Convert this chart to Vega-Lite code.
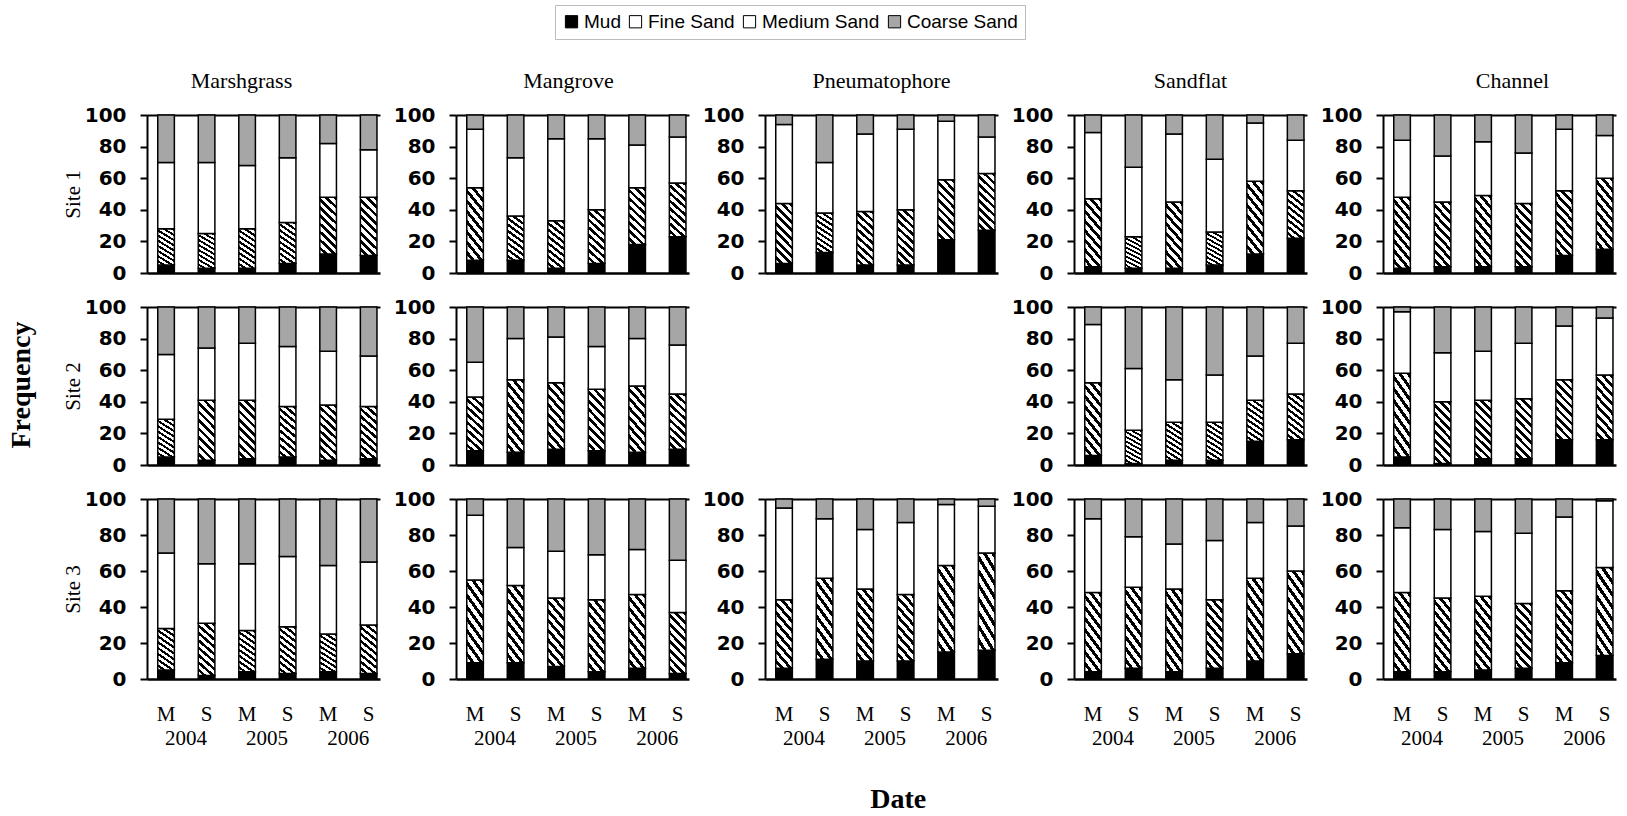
{
"$schema": "https://vega.github.io/schema/vega-lite/v6.json",
"padding": {"left": 8, "top": 4, "right": 5, "bottom": 5},
"background": "white",
"datasets": {
"ranks": [{"fraction":"Mud","rank":1},{"fraction":"Fine Sand","rank":2},{"fraction":"Medium Sand","rank":3},{"fraction":"Coarse Sand","rank":4}],
"sed": [
{"habitat":"Marshgrass","site":"Site 1","period":"2004 M","Mud":5,"Fine Sand":23,"Medium Sand":42,"Coarse Sand":30},
{"habitat":"Marshgrass","site":"Site 1","period":"2004 S","Mud":3,"Fine Sand":22,"Medium Sand":45,"Coarse Sand":30},
{"habitat":"Marshgrass","site":"Site 1","period":"2005 M","Mud":3,"Fine Sand":25,"Medium Sand":40,"Coarse Sand":32},
{"habitat":"Marshgrass","site":"Site 1","period":"2005 S","Mud":6,"Fine Sand":26,"Medium Sand":41,"Coarse Sand":27},
{"habitat":"Marshgrass","site":"Site 1","period":"2006 M","Mud":12,"Fine Sand":36,"Medium Sand":34,"Coarse Sand":18},
{"habitat":"Marshgrass","site":"Site 1","period":"2006 S","Mud":11,"Fine Sand":37,"Medium Sand":30,"Coarse Sand":22},
{"habitat":"Mangrove","site":"Site 1","period":"2004 M","Mud":8,"Fine Sand":46,"Medium Sand":37,"Coarse Sand":9},
{"habitat":"Mangrove","site":"Site 1","period":"2004 S","Mud":8,"Fine Sand":28,"Medium Sand":37,"Coarse Sand":27},
{"habitat":"Mangrove","site":"Site 1","period":"2005 M","Mud":3,"Fine Sand":30,"Medium Sand":52,"Coarse Sand":15},
{"habitat":"Mangrove","site":"Site 1","period":"2005 S","Mud":6,"Fine Sand":34,"Medium Sand":45,"Coarse Sand":15},
{"habitat":"Mangrove","site":"Site 1","period":"2006 M","Mud":18,"Fine Sand":36,"Medium Sand":27,"Coarse Sand":19},
{"habitat":"Mangrove","site":"Site 1","period":"2006 S","Mud":23,"Fine Sand":34,"Medium Sand":29,"Coarse Sand":14},
{"habitat":"Pneumatophore","site":"Site 1","period":"2004 M","Mud":6,"Fine Sand":38,"Medium Sand":50,"Coarse Sand":6},
{"habitat":"Pneumatophore","site":"Site 1","period":"2004 S","Mud":13,"Fine Sand":25,"Medium Sand":32,"Coarse Sand":30},
{"habitat":"Pneumatophore","site":"Site 1","period":"2005 M","Mud":5,"Fine Sand":34,"Medium Sand":49,"Coarse Sand":12},
{"habitat":"Pneumatophore","site":"Site 1","period":"2005 S","Mud":5,"Fine Sand":35,"Medium Sand":51,"Coarse Sand":9},
{"habitat":"Pneumatophore","site":"Site 1","period":"2006 M","Mud":21,"Fine Sand":38,"Medium Sand":37,"Coarse Sand":4},
{"habitat":"Pneumatophore","site":"Site 1","period":"2006 S","Mud":27,"Fine Sand":36,"Medium Sand":23,"Coarse Sand":14},
{"habitat":"Sandflat","site":"Site 1","period":"2004 M","Mud":4,"Fine Sand":43,"Medium Sand":42,"Coarse Sand":11},
{"habitat":"Sandflat","site":"Site 1","period":"2004 S","Mud":3,"Fine Sand":20,"Medium Sand":44,"Coarse Sand":33},
{"habitat":"Sandflat","site":"Site 1","period":"2005 M","Mud":3,"Fine Sand":42,"Medium Sand":43,"Coarse Sand":12},
{"habitat":"Sandflat","site":"Site 1","period":"2005 S","Mud":5,"Fine Sand":21,"Medium Sand":46,"Coarse Sand":28},
{"habitat":"Sandflat","site":"Site 1","period":"2006 M","Mud":12,"Fine Sand":46,"Medium Sand":37,"Coarse Sand":5},
{"habitat":"Sandflat","site":"Site 1","period":"2006 S","Mud":22,"Fine Sand":30,"Medium Sand":32,"Coarse Sand":16},
{"habitat":"Channel","site":"Site 1","period":"2004 M","Mud":3,"Fine Sand":45,"Medium Sand":36,"Coarse Sand":16},
{"habitat":"Channel","site":"Site 1","period":"2004 S","Mud":4,"Fine Sand":41,"Medium Sand":29,"Coarse Sand":26},
{"habitat":"Channel","site":"Site 1","period":"2005 M","Mud":4,"Fine Sand":45,"Medium Sand":34,"Coarse Sand":17},
{"habitat":"Channel","site":"Site 1","period":"2005 S","Mud":4,"Fine Sand":40,"Medium Sand":32,"Coarse Sand":24},
{"habitat":"Channel","site":"Site 1","period":"2006 M","Mud":11,"Fine Sand":41,"Medium Sand":39,"Coarse Sand":9},
{"habitat":"Channel","site":"Site 1","period":"2006 S","Mud":15,"Fine Sand":45,"Medium Sand":27,"Coarse Sand":13},
{"habitat":"Marshgrass","site":"Site 2","period":"2004 M","Mud":5,"Fine Sand":24,"Medium Sand":41,"Coarse Sand":30},
{"habitat":"Marshgrass","site":"Site 2","period":"2004 S","Mud":3,"Fine Sand":38,"Medium Sand":33,"Coarse Sand":26},
{"habitat":"Marshgrass","site":"Site 2","period":"2005 M","Mud":4,"Fine Sand":37,"Medium Sand":36,"Coarse Sand":23},
{"habitat":"Marshgrass","site":"Site 2","period":"2005 S","Mud":5,"Fine Sand":32,"Medium Sand":38,"Coarse Sand":25},
{"habitat":"Marshgrass","site":"Site 2","period":"2006 M","Mud":3,"Fine Sand":35,"Medium Sand":34,"Coarse Sand":28},
{"habitat":"Marshgrass","site":"Site 2","period":"2006 S","Mud":4,"Fine Sand":33,"Medium Sand":32,"Coarse Sand":31},
{"habitat":"Mangrove","site":"Site 2","period":"2004 M","Mud":9,"Fine Sand":34,"Medium Sand":22,"Coarse Sand":35},
{"habitat":"Mangrove","site":"Site 2","period":"2004 S","Mud":8,"Fine Sand":46,"Medium Sand":26,"Coarse Sand":20},
{"habitat":"Mangrove","site":"Site 2","period":"2005 M","Mud":10,"Fine Sand":42,"Medium Sand":29,"Coarse Sand":19},
{"habitat":"Mangrove","site":"Site 2","period":"2005 S","Mud":9,"Fine Sand":39,"Medium Sand":27,"Coarse Sand":25},
{"habitat":"Mangrove","site":"Site 2","period":"2006 M","Mud":8,"Fine Sand":42,"Medium Sand":30,"Coarse Sand":20},
{"habitat":"Mangrove","site":"Site 2","period":"2006 S","Mud":10,"Fine Sand":35,"Medium Sand":31,"Coarse Sand":24},
{"habitat":"Sandflat","site":"Site 2","period":"2004 M","Mud":6,"Fine Sand":46,"Medium Sand":37,"Coarse Sand":11},
{"habitat":"Sandflat","site":"Site 2","period":"2004 S","Mud":1,"Fine Sand":21,"Medium Sand":39,"Coarse Sand":39},
{"habitat":"Sandflat","site":"Site 2","period":"2005 M","Mud":3,"Fine Sand":24,"Medium Sand":27,"Coarse Sand":46},
{"habitat":"Sandflat","site":"Site 2","period":"2005 S","Mud":3,"Fine Sand":24,"Medium Sand":30,"Coarse Sand":43},
{"habitat":"Sandflat","site":"Site 2","period":"2006 M","Mud":15,"Fine Sand":26,"Medium Sand":28,"Coarse Sand":31},
{"habitat":"Sandflat","site":"Site 2","period":"2006 S","Mud":16,"Fine Sand":29,"Medium Sand":32,"Coarse Sand":23},
{"habitat":"Channel","site":"Site 2","period":"2004 M","Mud":5,"Fine Sand":53,"Medium Sand":39,"Coarse Sand":3},
{"habitat":"Channel","site":"Site 2","period":"2004 S","Mud":1,"Fine Sand":39,"Medium Sand":31,"Coarse Sand":29},
{"habitat":"Channel","site":"Site 2","period":"2005 M","Mud":4,"Fine Sand":37,"Medium Sand":31,"Coarse Sand":28},
{"habitat":"Channel","site":"Site 2","period":"2005 S","Mud":4,"Fine Sand":38,"Medium Sand":35,"Coarse Sand":23},
{"habitat":"Channel","site":"Site 2","period":"2006 M","Mud":16,"Fine Sand":38,"Medium Sand":34,"Coarse Sand":12},
{"habitat":"Channel","site":"Site 2","period":"2006 S","Mud":16,"Fine Sand":41,"Medium Sand":36,"Coarse Sand":7},
{"habitat":"Marshgrass","site":"Site 3","period":"2004 M","Mud":5,"Fine Sand":23,"Medium Sand":42,"Coarse Sand":30},
{"habitat":"Marshgrass","site":"Site 3","period":"2004 S","Mud":2,"Fine Sand":29,"Medium Sand":33,"Coarse Sand":36},
{"habitat":"Marshgrass","site":"Site 3","period":"2005 M","Mud":4,"Fine Sand":23,"Medium Sand":37,"Coarse Sand":36},
{"habitat":"Marshgrass","site":"Site 3","period":"2005 S","Mud":3,"Fine Sand":26,"Medium Sand":39,"Coarse Sand":32},
{"habitat":"Marshgrass","site":"Site 3","period":"2006 M","Mud":4,"Fine Sand":21,"Medium Sand":38,"Coarse Sand":37},
{"habitat":"Marshgrass","site":"Site 3","period":"2006 S","Mud":3,"Fine Sand":27,"Medium Sand":35,"Coarse Sand":35},
{"habitat":"Mangrove","site":"Site 3","period":"2004 M","Mud":9,"Fine Sand":46,"Medium Sand":36,"Coarse Sand":9},
{"habitat":"Mangrove","site":"Site 3","period":"2004 S","Mud":9,"Fine Sand":43,"Medium Sand":21,"Coarse Sand":27},
{"habitat":"Mangrove","site":"Site 3","period":"2005 M","Mud":7,"Fine Sand":38,"Medium Sand":26,"Coarse Sand":29},
{"habitat":"Mangrove","site":"Site 3","period":"2005 S","Mud":4,"Fine Sand":40,"Medium Sand":25,"Coarse Sand":31},
{"habitat":"Mangrove","site":"Site 3","period":"2006 M","Mud":6,"Fine Sand":41,"Medium Sand":25,"Coarse Sand":28},
{"habitat":"Mangrove","site":"Site 3","period":"2006 S","Mud":3,"Fine Sand":34,"Medium Sand":29,"Coarse Sand":34},
{"habitat":"Pneumatophore","site":"Site 3","period":"2004 M","Mud":6,"Fine Sand":38,"Medium Sand":51,"Coarse Sand":5},
{"habitat":"Pneumatophore","site":"Site 3","period":"2004 S","Mud":11,"Fine Sand":45,"Medium Sand":33,"Coarse Sand":11},
{"habitat":"Pneumatophore","site":"Site 3","period":"2005 M","Mud":10,"Fine Sand":40,"Medium Sand":33,"Coarse Sand":17},
{"habitat":"Pneumatophore","site":"Site 3","period":"2005 S","Mud":10,"Fine Sand":37,"Medium Sand":40,"Coarse Sand":13},
{"habitat":"Pneumatophore","site":"Site 3","period":"2006 M","Mud":15,"Fine Sand":48,"Medium Sand":34,"Coarse Sand":3},
{"habitat":"Pneumatophore","site":"Site 3","period":"2006 S","Mud":16,"Fine Sand":54,"Medium Sand":26,"Coarse Sand":4},
{"habitat":"Sandflat","site":"Site 3","period":"2004 M","Mud":4,"Fine Sand":44,"Medium Sand":41,"Coarse Sand":11},
{"habitat":"Sandflat","site":"Site 3","period":"2004 S","Mud":6,"Fine Sand":45,"Medium Sand":28,"Coarse Sand":21},
{"habitat":"Sandflat","site":"Site 3","period":"2005 M","Mud":4,"Fine Sand":46,"Medium Sand":25,"Coarse Sand":25},
{"habitat":"Sandflat","site":"Site 3","period":"2005 S","Mud":6,"Fine Sand":38,"Medium Sand":33,"Coarse Sand":23},
{"habitat":"Sandflat","site":"Site 3","period":"2006 M","Mud":10,"Fine Sand":46,"Medium Sand":31,"Coarse Sand":13},
{"habitat":"Sandflat","site":"Site 3","period":"2006 S","Mud":14,"Fine Sand":46,"Medium Sand":25,"Coarse Sand":15},
{"habitat":"Channel","site":"Site 3","period":"2004 M","Mud":4,"Fine Sand":44,"Medium Sand":36,"Coarse Sand":16},
{"habitat":"Channel","site":"Site 3","period":"2004 S","Mud":4,"Fine Sand":41,"Medium Sand":38,"Coarse Sand":17},
{"habitat":"Channel","site":"Site 3","period":"2005 M","Mud":5,"Fine Sand":41,"Medium Sand":36,"Coarse Sand":18},
{"habitat":"Channel","site":"Site 3","period":"2005 S","Mud":6,"Fine Sand":36,"Medium Sand":39,"Coarse Sand":19},
{"habitat":"Channel","site":"Site 3","period":"2006 M","Mud":9,"Fine Sand":40,"Medium Sand":41,"Coarse Sand":10},
{"habitat":"Channel","site":"Site 3","period":"2006 S","Mud":13,"Fine Sand":49,"Medium Sand":37,"Coarse Sand":1}
]
},
"title": {"text": "Date", "orient": "bottom", "anchor": "middle", "frame": "bounds", "fontSize": 28, "fontWeight": "bold", "baseline": "top", "offset": 38, "dx": 82},
"vconcat": [
{
"title": {"text": "Frequency", "orient": "left", "anchor": "middle", "frame": "bounds", "fontSize": 28, "fontWeight": "bold", "baseline": "bottom", "offset": -2, "dx": 24},
"data": {"name": "sed"},
"transform": [
 {"fold": ["Mud", "Fine Sand", "Medium Sand", "Coarse Sand"], "as": ["fraction", "value"]},
 {"lookup": "fraction", "from": {"data": {"name": "ranks"}, "key": "fraction", "fields": ["rank"]}}
],
"columns": 5,
"align": "each",
"bounds": "flush",
"spacing": {"row": 34, "column": 76},
"concat": [
{"width":233,"height":158,"title":{"text":"Marshgrass","dx":-22},"transform":[{"filter":"datum.habitat=='Marshgrass' && datum.site=='Site 1'"}],"mark":{"type":"bar","stroke":"black","strokeWidth":1.5},"encoding":{"x":{"field":"period","type":"nominal","scale":{"domain":["2004 M","2004 S","2005 M","2005 S","2006 M","2006 S"],"paddingInner":0.59,"paddingOuter":0.17,"align":0.78},"axis":{"labels":false,"title":null}},"y":{"field":"value","type":"quantitative","scale":{"domain":[0,100]},"axis":{"title":"Site 1"}},"fill":{"condition":{"test":"datum.fraction=='Fine Sand'","value":{"gradient":"linear","x1":0,"y1":1,"x2":0.33,"y2":-0.18,"stops":[{"offset":0,"color":"white"},{"offset":0.061,"color":"white"},{"offset":0.061,"color":"black"},{"offset":0.111,"color":"black"},{"offset":0.111,"color":"white"},{"offset":0.172,"color":"white"},{"offset":0.172,"color":"black"},{"offset":0.222,"color":"black"},{"offset":0.222,"color":"white"},{"offset":0.283,"color":"white"},{"offset":0.283,"color":"black"},{"offset":0.333,"color":"black"},{"offset":0.333,"color":"white"},{"offset":0.394,"color":"white"},{"offset":0.394,"color":"black"},{"offset":0.444,"color":"black"},{"offset":0.444,"color":"white"},{"offset":0.506,"color":"white"},{"offset":0.506,"color":"black"},{"offset":0.556,"color":"black"},{"offset":0.556,"color":"white"},{"offset":0.617,"color":"white"},{"offset":0.617,"color":"black"},{"offset":0.667,"color":"black"},{"offset":0.667,"color":"white"},{"offset":0.728,"color":"white"},{"offset":0.728,"color":"black"},{"offset":0.778,"color":"black"},{"offset":0.778,"color":"white"},{"offset":0.839,"color":"white"},{"offset":0.839,"color":"black"},{"offset":0.889,"color":"black"},{"offset":0.889,"color":"white"},{"offset":0.95,"color":"white"},{"offset":0.95,"color":"black"},{"offset":1,"color":"black"}]}},"field":"fraction","type":"nominal","sort":["Mud","Fine Sand","Medium Sand","Coarse Sand"],"title":null},"order":{"field":"rank","type":"quantitative"}}},
{"width":233,"height":158,"title":{"text":"Mangrove","dx":-4},"transform":[{"filter":"datum.habitat=='Mangrove' && datum.site=='Site 1'"}],"mark":{"type":"bar","stroke":"black","strokeWidth":1.5},"encoding":{"x":{"field":"period","type":"nominal","scale":{"domain":["2004 M","2004 S","2005 M","2005 S","2006 M","2006 S"],"paddingInner":0.59,"paddingOuter":0.17,"align":0.78},"axis":{"labels":false,"title":null}},"y":{"field":"value","type":"quantitative","scale":{"domain":[0,100]},"axis":{"title":null}},"fill":{"condition":{"test":"datum.fraction=='Fine Sand'","value":{"gradient":"linear","x1":0,"y1":1,"x2":0.33,"y2":-0.18,"stops":[{"offset":0,"color":"white"},{"offset":0.061,"color":"white"},{"offset":0.061,"color":"black"},{"offset":0.111,"color":"black"},{"offset":0.111,"color":"white"},{"offset":0.172,"color":"white"},{"offset":0.172,"color":"black"},{"offset":0.222,"color":"black"},{"offset":0.222,"color":"white"},{"offset":0.283,"color":"white"},{"offset":0.283,"color":"black"},{"offset":0.333,"color":"black"},{"offset":0.333,"color":"white"},{"offset":0.394,"color":"white"},{"offset":0.394,"color":"black"},{"offset":0.444,"color":"black"},{"offset":0.444,"color":"white"},{"offset":0.506,"color":"white"},{"offset":0.506,"color":"black"},{"offset":0.556,"color":"black"},{"offset":0.556,"color":"white"},{"offset":0.617,"color":"white"},{"offset":0.617,"color":"black"},{"offset":0.667,"color":"black"},{"offset":0.667,"color":"white"},{"offset":0.728,"color":"white"},{"offset":0.728,"color":"black"},{"offset":0.778,"color":"black"},{"offset":0.778,"color":"white"},{"offset":0.839,"color":"white"},{"offset":0.839,"color":"black"},{"offset":0.889,"color":"black"},{"offset":0.889,"color":"white"},{"offset":0.95,"color":"white"},{"offset":0.95,"color":"black"},{"offset":1,"color":"black"}]}},"field":"fraction","type":"nominal","sort":["Mud","Fine Sand","Medium Sand","Coarse Sand"],"title":null},"order":{"field":"rank","type":"quantitative"}}},
{"width":233,"height":158,"title":"Pneumatophore","transform":[{"filter":"datum.habitat=='Pneumatophore' && datum.site=='Site 1'"}],"mark":{"type":"bar","stroke":"black","strokeWidth":1.5},"encoding":{"x":{"field":"period","type":"nominal","scale":{"domain":["2004 M","2004 S","2005 M","2005 S","2006 M","2006 S"],"paddingInner":0.59,"paddingOuter":0.17,"align":0.78},"axis":{"labels":false,"title":null}},"y":{"field":"value","type":"quantitative","scale":{"domain":[0,100]},"axis":{"title":null}},"fill":{"condition":{"test":"datum.fraction=='Fine Sand'","value":{"gradient":"linear","x1":0,"y1":1,"x2":0.33,"y2":-0.18,"stops":[{"offset":0,"color":"white"},{"offset":0.061,"color":"white"},{"offset":0.061,"color":"black"},{"offset":0.111,"color":"black"},{"offset":0.111,"color":"white"},{"offset":0.172,"color":"white"},{"offset":0.172,"color":"black"},{"offset":0.222,"color":"black"},{"offset":0.222,"color":"white"},{"offset":0.283,"color":"white"},{"offset":0.283,"color":"black"},{"offset":0.333,"color":"black"},{"offset":0.333,"color":"white"},{"offset":0.394,"color":"white"},{"offset":0.394,"color":"black"},{"offset":0.444,"color":"black"},{"offset":0.444,"color":"white"},{"offset":0.506,"color":"white"},{"offset":0.506,"color":"black"},{"offset":0.556,"color":"black"},{"offset":0.556,"color":"white"},{"offset":0.617,"color":"white"},{"offset":0.617,"color":"black"},{"offset":0.667,"color":"black"},{"offset":0.667,"color":"white"},{"offset":0.728,"color":"white"},{"offset":0.728,"color":"black"},{"offset":0.778,"color":"black"},{"offset":0.778,"color":"white"},{"offset":0.839,"color":"white"},{"offset":0.839,"color":"black"},{"offset":0.889,"color":"black"},{"offset":0.889,"color":"white"},{"offset":0.95,"color":"white"},{"offset":0.95,"color":"black"},{"offset":1,"color":"black"}]}},"field":"fraction","type":"nominal","sort":["Mud","Fine Sand","Medium Sand","Coarse Sand"],"title":null},"order":{"field":"rank","type":"quantitative"}}},
{"width":233,"height":158,"title":"Sandflat","transform":[{"filter":"datum.habitat=='Sandflat' && datum.site=='Site 1'"}],"mark":{"type":"bar","stroke":"black","strokeWidth":1.5},"encoding":{"x":{"field":"period","type":"nominal","scale":{"domain":["2004 M","2004 S","2005 M","2005 S","2006 M","2006 S"],"paddingInner":0.59,"paddingOuter":0.17,"align":0.78},"axis":{"labels":false,"title":null}},"y":{"field":"value","type":"quantitative","scale":{"domain":[0,100]},"axis":{"title":null}},"fill":{"condition":{"test":"datum.fraction=='Fine Sand'","value":{"gradient":"linear","x1":0,"y1":1,"x2":0.33,"y2":-0.18,"stops":[{"offset":0,"color":"white"},{"offset":0.061,"color":"white"},{"offset":0.061,"color":"black"},{"offset":0.111,"color":"black"},{"offset":0.111,"color":"white"},{"offset":0.172,"color":"white"},{"offset":0.172,"color":"black"},{"offset":0.222,"color":"black"},{"offset":0.222,"color":"white"},{"offset":0.283,"color":"white"},{"offset":0.283,"color":"black"},{"offset":0.333,"color":"black"},{"offset":0.333,"color":"white"},{"offset":0.394,"color":"white"},{"offset":0.394,"color":"black"},{"offset":0.444,"color":"black"},{"offset":0.444,"color":"white"},{"offset":0.506,"color":"white"},{"offset":0.506,"color":"black"},{"offset":0.556,"color":"black"},{"offset":0.556,"color":"white"},{"offset":0.617,"color":"white"},{"offset":0.617,"color":"black"},{"offset":0.667,"color":"black"},{"offset":0.667,"color":"white"},{"offset":0.728,"color":"white"},{"offset":0.728,"color":"black"},{"offset":0.778,"color":"black"},{"offset":0.778,"color":"white"},{"offset":0.839,"color":"white"},{"offset":0.839,"color":"black"},{"offset":0.889,"color":"black"},{"offset":0.889,"color":"white"},{"offset":0.95,"color":"white"},{"offset":0.95,"color":"black"},{"offset":1,"color":"black"}]}},"field":"fraction","type":"nominal","sort":["Mud","Fine Sand","Medium Sand","Coarse Sand"],"title":null},"order":{"field":"rank","type":"quantitative"}}},
{"width":233,"height":158,"title":{"text":"Channel","dx":13},"transform":[{"filter":"datum.habitat=='Channel' && datum.site=='Site 1'"}],"mark":{"type":"bar","stroke":"black","strokeWidth":1.5},"encoding":{"x":{"field":"period","type":"nominal","scale":{"domain":["2004 M","2004 S","2005 M","2005 S","2006 M","2006 S"],"paddingInner":0.59,"paddingOuter":0.17,"align":0.78},"axis":{"labels":false,"title":null}},"y":{"field":"value","type":"quantitative","scale":{"domain":[0,100]},"axis":{"title":null}},"fill":{"condition":{"test":"datum.fraction=='Fine Sand'","value":{"gradient":"linear","x1":0,"y1":1,"x2":0.33,"y2":-0.18,"stops":[{"offset":0,"color":"white"},{"offset":0.061,"color":"white"},{"offset":0.061,"color":"black"},{"offset":0.111,"color":"black"},{"offset":0.111,"color":"white"},{"offset":0.172,"color":"white"},{"offset":0.172,"color":"black"},{"offset":0.222,"color":"black"},{"offset":0.222,"color":"white"},{"offset":0.283,"color":"white"},{"offset":0.283,"color":"black"},{"offset":0.333,"color":"black"},{"offset":0.333,"color":"white"},{"offset":0.394,"color":"white"},{"offset":0.394,"color":"black"},{"offset":0.444,"color":"black"},{"offset":0.444,"color":"white"},{"offset":0.506,"color":"white"},{"offset":0.506,"color":"black"},{"offset":0.556,"color":"black"},{"offset":0.556,"color":"white"},{"offset":0.617,"color":"white"},{"offset":0.617,"color":"black"},{"offset":0.667,"color":"black"},{"offset":0.667,"color":"white"},{"offset":0.728,"color":"white"},{"offset":0.728,"color":"black"},{"offset":0.778,"color":"black"},{"offset":0.778,"color":"white"},{"offset":0.839,"color":"white"},{"offset":0.839,"color":"black"},{"offset":0.889,"color":"black"},{"offset":0.889,"color":"white"},{"offset":0.95,"color":"white"},{"offset":0.95,"color":"black"},{"offset":1,"color":"black"}]}},"field":"fraction","type":"nominal","sort":["Mud","Fine Sand","Medium Sand","Coarse Sand"],"title":null},"order":{"field":"rank","type":"quantitative"}}},
{"width":233,"height":158,"transform":[{"filter":"datum.habitat=='Marshgrass' && datum.site=='Site 2'"}],"mark":{"type":"bar","stroke":"black","strokeWidth":1.5},"encoding":{"x":{"field":"period","type":"nominal","scale":{"domain":["2004 M","2004 S","2005 M","2005 S","2006 M","2006 S"],"paddingInner":0.59,"paddingOuter":0.17,"align":0.78},"axis":{"labels":false,"title":null}},"y":{"field":"value","type":"quantitative","scale":{"domain":[0,100]},"axis":{"title":"Site 2"}},"fill":{"condition":{"test":"datum.fraction=='Fine Sand'","value":{"gradient":"linear","x1":0,"y1":1,"x2":0.33,"y2":-0.18,"stops":[{"offset":0,"color":"white"},{"offset":0.061,"color":"white"},{"offset":0.061,"color":"black"},{"offset":0.111,"color":"black"},{"offset":0.111,"color":"white"},{"offset":0.172,"color":"white"},{"offset":0.172,"color":"black"},{"offset":0.222,"color":"black"},{"offset":0.222,"color":"white"},{"offset":0.283,"color":"white"},{"offset":0.283,"color":"black"},{"offset":0.333,"color":"black"},{"offset":0.333,"color":"white"},{"offset":0.394,"color":"white"},{"offset":0.394,"color":"black"},{"offset":0.444,"color":"black"},{"offset":0.444,"color":"white"},{"offset":0.506,"color":"white"},{"offset":0.506,"color":"black"},{"offset":0.556,"color":"black"},{"offset":0.556,"color":"white"},{"offset":0.617,"color":"white"},{"offset":0.617,"color":"black"},{"offset":0.667,"color":"black"},{"offset":0.667,"color":"white"},{"offset":0.728,"color":"white"},{"offset":0.728,"color":"black"},{"offset":0.778,"color":"black"},{"offset":0.778,"color":"white"},{"offset":0.839,"color":"white"},{"offset":0.839,"color":"black"},{"offset":0.889,"color":"black"},{"offset":0.889,"color":"white"},{"offset":0.95,"color":"white"},{"offset":0.95,"color":"black"},{"offset":1,"color":"black"}]}},"field":"fraction","type":"nominal","sort":["Mud","Fine Sand","Medium Sand","Coarse Sand"],"title":null},"order":{"field":"rank","type":"quantitative"}}},
{"width":233,"height":158,"transform":[{"filter":"datum.habitat=='Mangrove' && datum.site=='Site 2'"}],"mark":{"type":"bar","stroke":"black","strokeWidth":1.5},"encoding":{"x":{"field":"period","type":"nominal","scale":{"domain":["2004 M","2004 S","2005 M","2005 S","2006 M","2006 S"],"paddingInner":0.59,"paddingOuter":0.17,"align":0.78},"axis":{"labels":false,"title":null}},"y":{"field":"value","type":"quantitative","scale":{"domain":[0,100]},"axis":{"title":null}},"fill":{"condition":{"test":"datum.fraction=='Fine Sand'","value":{"gradient":"linear","x1":0,"y1":1,"x2":0.33,"y2":-0.18,"stops":[{"offset":0,"color":"white"},{"offset":0.061,"color":"white"},{"offset":0.061,"color":"black"},{"offset":0.111,"color":"black"},{"offset":0.111,"color":"white"},{"offset":0.172,"color":"white"},{"offset":0.172,"color":"black"},{"offset":0.222,"color":"black"},{"offset":0.222,"color":"white"},{"offset":0.283,"color":"white"},{"offset":0.283,"color":"black"},{"offset":0.333,"color":"black"},{"offset":0.333,"color":"white"},{"offset":0.394,"color":"white"},{"offset":0.394,"color":"black"},{"offset":0.444,"color":"black"},{"offset":0.444,"color":"white"},{"offset":0.506,"color":"white"},{"offset":0.506,"color":"black"},{"offset":0.556,"color":"black"},{"offset":0.556,"color":"white"},{"offset":0.617,"color":"white"},{"offset":0.617,"color":"black"},{"offset":0.667,"color":"black"},{"offset":0.667,"color":"white"},{"offset":0.728,"color":"white"},{"offset":0.728,"color":"black"},{"offset":0.778,"color":"black"},{"offset":0.778,"color":"white"},{"offset":0.839,"color":"white"},{"offset":0.839,"color":"black"},{"offset":0.889,"color":"black"},{"offset":0.889,"color":"white"},{"offset":0.95,"color":"white"},{"offset":0.95,"color":"black"},{"offset":1,"color":"black"}]}},"field":"fraction","type":"nominal","sort":["Mud","Fine Sand","Medium Sand","Coarse Sand"],"title":null},"order":{"field":"rank","type":"quantitative"}}},
{"width":233,"height":158,"transform":[{"filter":"datum.habitat=='None'"}],"mark":{"type":"point","opacity":0},"encoding":{}},
{"width":233,"height":158,"transform":[{"filter":"datum.habitat=='Sandflat' && datum.site=='Site 2'"}],"mark":{"type":"bar","stroke":"black","strokeWidth":1.5},"encoding":{"x":{"field":"period","type":"nominal","scale":{"domain":["2004 M","2004 S","2005 M","2005 S","2006 M","2006 S"],"paddingInner":0.59,"paddingOuter":0.17,"align":0.78},"axis":{"labels":false,"title":null}},"y":{"field":"value","type":"quantitative","scale":{"domain":[0,100]},"axis":{"title":null}},"fill":{"condition":{"test":"datum.fraction=='Fine Sand'","value":{"gradient":"linear","x1":0,"y1":1,"x2":0.33,"y2":-0.18,"stops":[{"offset":0,"color":"white"},{"offset":0.061,"color":"white"},{"offset":0.061,"color":"black"},{"offset":0.111,"color":"black"},{"offset":0.111,"color":"white"},{"offset":0.172,"color":"white"},{"offset":0.172,"color":"black"},{"offset":0.222,"color":"black"},{"offset":0.222,"color":"white"},{"offset":0.283,"color":"white"},{"offset":0.283,"color":"black"},{"offset":0.333,"color":"black"},{"offset":0.333,"color":"white"},{"offset":0.394,"color":"white"},{"offset":0.394,"color":"black"},{"offset":0.444,"color":"black"},{"offset":0.444,"color":"white"},{"offset":0.506,"color":"white"},{"offset":0.506,"color":"black"},{"offset":0.556,"color":"black"},{"offset":0.556,"color":"white"},{"offset":0.617,"color":"white"},{"offset":0.617,"color":"black"},{"offset":0.667,"color":"black"},{"offset":0.667,"color":"white"},{"offset":0.728,"color":"white"},{"offset":0.728,"color":"black"},{"offset":0.778,"color":"black"},{"offset":0.778,"color":"white"},{"offset":0.839,"color":"white"},{"offset":0.839,"color":"black"},{"offset":0.889,"color":"black"},{"offset":0.889,"color":"white"},{"offset":0.95,"color":"white"},{"offset":0.95,"color":"black"},{"offset":1,"color":"black"}]}},"field":"fraction","type":"nominal","sort":["Mud","Fine Sand","Medium Sand","Coarse Sand"],"title":null},"order":{"field":"rank","type":"quantitative"}}},
{"width":233,"height":158,"transform":[{"filter":"datum.habitat=='Channel' && datum.site=='Site 2'"}],"mark":{"type":"bar","stroke":"black","strokeWidth":1.5},"encoding":{"x":{"field":"period","type":"nominal","scale":{"domain":["2004 M","2004 S","2005 M","2005 S","2006 M","2006 S"],"paddingInner":0.59,"paddingOuter":0.17,"align":0.78},"axis":{"labels":false,"title":null}},"y":{"field":"value","type":"quantitative","scale":{"domain":[0,100]},"axis":{"title":null}},"fill":{"condition":{"test":"datum.fraction=='Fine Sand'","value":{"gradient":"linear","x1":0,"y1":1,"x2":0.33,"y2":-0.18,"stops":[{"offset":0,"color":"white"},{"offset":0.061,"color":"white"},{"offset":0.061,"color":"black"},{"offset":0.111,"color":"black"},{"offset":0.111,"color":"white"},{"offset":0.172,"color":"white"},{"offset":0.172,"color":"black"},{"offset":0.222,"color":"black"},{"offset":0.222,"color":"white"},{"offset":0.283,"color":"white"},{"offset":0.283,"color":"black"},{"offset":0.333,"color":"black"},{"offset":0.333,"color":"white"},{"offset":0.394,"color":"white"},{"offset":0.394,"color":"black"},{"offset":0.444,"color":"black"},{"offset":0.444,"color":"white"},{"offset":0.506,"color":"white"},{"offset":0.506,"color":"black"},{"offset":0.556,"color":"black"},{"offset":0.556,"color":"white"},{"offset":0.617,"color":"white"},{"offset":0.617,"color":"black"},{"offset":0.667,"color":"black"},{"offset":0.667,"color":"white"},{"offset":0.728,"color":"white"},{"offset":0.728,"color":"black"},{"offset":0.778,"color":"black"},{"offset":0.778,"color":"white"},{"offset":0.839,"color":"white"},{"offset":0.839,"color":"black"},{"offset":0.889,"color":"black"},{"offset":0.889,"color":"white"},{"offset":0.95,"color":"white"},{"offset":0.95,"color":"black"},{"offset":1,"color":"black"}]}},"field":"fraction","type":"nominal","sort":["Mud","Fine Sand","Medium Sand","Coarse Sand"],"title":null},"order":{"field":"rank","type":"quantitative"}}},
{"width":233,"height":180,"transform":[{"filter":"datum.habitat=='Marshgrass' && datum.site=='Site 3'"}],"layer":[
 {"mark":{"type":"bar","stroke":"black","strokeWidth":1.5},"encoding":{"x":{"field":"period","type":"nominal","scale":{"domain":["2004 M","2004 S","2005 M","2005 S","2006 M","2006 S"],"paddingInner":0.59,"paddingOuter":0.17,"align":0.78},"axis":{"labelExpr":"slice(datum.value,5)","title":null}},"y":{"field":"value","type":"quantitative","scale":{"domain":[0,100]},"axis":{"title":"Site 3"}},"fill":{"condition":{"test":"datum.fraction=='Fine Sand'","value":{"gradient":"linear","x1":0,"y1":1,"x2":0.33,"y2":-0.18,"stops":[{"offset":0,"color":"white"},{"offset":0.061,"color":"white"},{"offset":0.061,"color":"black"},{"offset":0.111,"color":"black"},{"offset":0.111,"color":"white"},{"offset":0.172,"color":"white"},{"offset":0.172,"color":"black"},{"offset":0.222,"color":"black"},{"offset":0.222,"color":"white"},{"offset":0.283,"color":"white"},{"offset":0.283,"color":"black"},{"offset":0.333,"color":"black"},{"offset":0.333,"color":"white"},{"offset":0.394,"color":"white"},{"offset":0.394,"color":"black"},{"offset":0.444,"color":"black"},{"offset":0.444,"color":"white"},{"offset":0.506,"color":"white"},{"offset":0.506,"color":"black"},{"offset":0.556,"color":"black"},{"offset":0.556,"color":"white"},{"offset":0.617,"color":"white"},{"offset":0.617,"color":"black"},{"offset":0.667,"color":"black"},{"offset":0.667,"color":"white"},{"offset":0.728,"color":"white"},{"offset":0.728,"color":"black"},{"offset":0.778,"color":"black"},{"offset":0.778,"color":"white"},{"offset":0.839,"color":"white"},{"offset":0.839,"color":"black"},{"offset":0.889,"color":"black"},{"offset":0.889,"color":"white"},{"offset":0.95,"color":"white"},{"offset":0.95,"color":"black"},{"offset":1,"color":"black"}]}},"field":"fraction","type":"nominal","sort":["Mud","Fine Sand","Medium Sand","Coarse Sand"],"title":null},"order":{"field":"rank","type":"quantitative"}}},
 {"mark":{"type":"bar","opacity":0},"encoding":{"x":{"field":"period","type":"nominal","axis":{"orient":"bottom","labelExpr":"slice(datum.value,5)=='M' ? slice(datum.value,0,4) : ''","labelOffset":20,"domain":false,"labelPadding":48,"title":null}}}}
],"resolve":{"axis":{"x":"independent"}}},
{"width":233,"height":180,"transform":[{"filter":"datum.habitat=='Mangrove' && datum.site=='Site 3'"}],"layer":[
 {"mark":{"type":"bar","stroke":"black","strokeWidth":1.5},"encoding":{"x":{"field":"period","type":"nominal","scale":{"domain":["2004 M","2004 S","2005 M","2005 S","2006 M","2006 S"],"paddingInner":0.59,"paddingOuter":0.17,"align":0.78},"axis":{"labelExpr":"slice(datum.value,5)","title":null}},"y":{"field":"value","type":"quantitative","scale":{"domain":[0,100]},"axis":{"title":null}},"fill":{"condition":{"test":"datum.fraction=='Fine Sand'","value":{"gradient":"linear","x1":0,"y1":1,"x2":0.33,"y2":-0.18,"stops":[{"offset":0,"color":"white"},{"offset":0.061,"color":"white"},{"offset":0.061,"color":"black"},{"offset":0.111,"color":"black"},{"offset":0.111,"color":"white"},{"offset":0.172,"color":"white"},{"offset":0.172,"color":"black"},{"offset":0.222,"color":"black"},{"offset":0.222,"color":"white"},{"offset":0.283,"color":"white"},{"offset":0.283,"color":"black"},{"offset":0.333,"color":"black"},{"offset":0.333,"color":"white"},{"offset":0.394,"color":"white"},{"offset":0.394,"color":"black"},{"offset":0.444,"color":"black"},{"offset":0.444,"color":"white"},{"offset":0.506,"color":"white"},{"offset":0.506,"color":"black"},{"offset":0.556,"color":"black"},{"offset":0.556,"color":"white"},{"offset":0.617,"color":"white"},{"offset":0.617,"color":"black"},{"offset":0.667,"color":"black"},{"offset":0.667,"color":"white"},{"offset":0.728,"color":"white"},{"offset":0.728,"color":"black"},{"offset":0.778,"color":"black"},{"offset":0.778,"color":"white"},{"offset":0.839,"color":"white"},{"offset":0.839,"color":"black"},{"offset":0.889,"color":"black"},{"offset":0.889,"color":"white"},{"offset":0.95,"color":"white"},{"offset":0.95,"color":"black"},{"offset":1,"color":"black"}]}},"field":"fraction","type":"nominal","sort":["Mud","Fine Sand","Medium Sand","Coarse Sand"],"title":null},"order":{"field":"rank","type":"quantitative"}}},
 {"mark":{"type":"bar","opacity":0},"encoding":{"x":{"field":"period","type":"nominal","axis":{"orient":"bottom","labelExpr":"slice(datum.value,5)=='M' ? slice(datum.value,0,4) : ''","labelOffset":20,"domain":false,"labelPadding":48,"title":null}}}}
],"resolve":{"axis":{"x":"independent"}}},
{"width":233,"height":180,"transform":[{"filter":"datum.habitat=='Pneumatophore' && datum.site=='Site 3'"}],"layer":[
 {"mark":{"type":"bar","stroke":"black","strokeWidth":1.5},"encoding":{"x":{"field":"period","type":"nominal","scale":{"domain":["2004 M","2004 S","2005 M","2005 S","2006 M","2006 S"],"paddingInner":0.59,"paddingOuter":0.17,"align":0.78},"axis":{"labelExpr":"slice(datum.value,5)","title":null}},"y":{"field":"value","type":"quantitative","scale":{"domain":[0,100]},"axis":{"title":null}},"fill":{"condition":{"test":"datum.fraction=='Fine Sand'","value":{"gradient":"linear","x1":0,"y1":1,"x2":0.33,"y2":-0.18,"stops":[{"offset":0,"color":"white"},{"offset":0.061,"color":"white"},{"offset":0.061,"color":"black"},{"offset":0.111,"color":"black"},{"offset":0.111,"color":"white"},{"offset":0.172,"color":"white"},{"offset":0.172,"color":"black"},{"offset":0.222,"color":"black"},{"offset":0.222,"color":"white"},{"offset":0.283,"color":"white"},{"offset":0.283,"color":"black"},{"offset":0.333,"color":"black"},{"offset":0.333,"color":"white"},{"offset":0.394,"color":"white"},{"offset":0.394,"color":"black"},{"offset":0.444,"color":"black"},{"offset":0.444,"color":"white"},{"offset":0.506,"color":"white"},{"offset":0.506,"color":"black"},{"offset":0.556,"color":"black"},{"offset":0.556,"color":"white"},{"offset":0.617,"color":"white"},{"offset":0.617,"color":"black"},{"offset":0.667,"color":"black"},{"offset":0.667,"color":"white"},{"offset":0.728,"color":"white"},{"offset":0.728,"color":"black"},{"offset":0.778,"color":"black"},{"offset":0.778,"color":"white"},{"offset":0.839,"color":"white"},{"offset":0.839,"color":"black"},{"offset":0.889,"color":"black"},{"offset":0.889,"color":"white"},{"offset":0.95,"color":"white"},{"offset":0.95,"color":"black"},{"offset":1,"color":"black"}]}},"field":"fraction","type":"nominal","sort":["Mud","Fine Sand","Medium Sand","Coarse Sand"],"title":null},"order":{"field":"rank","type":"quantitative"}}},
 {"mark":{"type":"bar","opacity":0},"encoding":{"x":{"field":"period","type":"nominal","axis":{"orient":"bottom","labelExpr":"slice(datum.value,5)=='M' ? slice(datum.value,0,4) : ''","labelOffset":20,"domain":false,"labelPadding":48,"title":null}}}}
],"resolve":{"axis":{"x":"independent"}}},
{"width":233,"height":180,"transform":[{"filter":"datum.habitat=='Sandflat' && datum.site=='Site 3'"}],"layer":[
 {"mark":{"type":"bar","stroke":"black","strokeWidth":1.5},"encoding":{"x":{"field":"period","type":"nominal","scale":{"domain":["2004 M","2004 S","2005 M","2005 S","2006 M","2006 S"],"paddingInner":0.59,"paddingOuter":0.17,"align":0.78},"axis":{"labelExpr":"slice(datum.value,5)","title":null}},"y":{"field":"value","type":"quantitative","scale":{"domain":[0,100]},"axis":{"title":null}},"fill":{"condition":{"test":"datum.fraction=='Fine Sand'","value":{"gradient":"linear","x1":0,"y1":1,"x2":0.33,"y2":-0.18,"stops":[{"offset":0,"color":"white"},{"offset":0.061,"color":"white"},{"offset":0.061,"color":"black"},{"offset":0.111,"color":"black"},{"offset":0.111,"color":"white"},{"offset":0.172,"color":"white"},{"offset":0.172,"color":"black"},{"offset":0.222,"color":"black"},{"offset":0.222,"color":"white"},{"offset":0.283,"color":"white"},{"offset":0.283,"color":"black"},{"offset":0.333,"color":"black"},{"offset":0.333,"color":"white"},{"offset":0.394,"color":"white"},{"offset":0.394,"color":"black"},{"offset":0.444,"color":"black"},{"offset":0.444,"color":"white"},{"offset":0.506,"color":"white"},{"offset":0.506,"color":"black"},{"offset":0.556,"color":"black"},{"offset":0.556,"color":"white"},{"offset":0.617,"color":"white"},{"offset":0.617,"color":"black"},{"offset":0.667,"color":"black"},{"offset":0.667,"color":"white"},{"offset":0.728,"color":"white"},{"offset":0.728,"color":"black"},{"offset":0.778,"color":"black"},{"offset":0.778,"color":"white"},{"offset":0.839,"color":"white"},{"offset":0.839,"color":"black"},{"offset":0.889,"color":"black"},{"offset":0.889,"color":"white"},{"offset":0.95,"color":"white"},{"offset":0.95,"color":"black"},{"offset":1,"color":"black"}]}},"field":"fraction","type":"nominal","sort":["Mud","Fine Sand","Medium Sand","Coarse Sand"],"title":null},"order":{"field":"rank","type":"quantitative"}}},
 {"mark":{"type":"bar","opacity":0},"encoding":{"x":{"field":"period","type":"nominal","axis":{"orient":"bottom","labelExpr":"slice(datum.value,5)=='M' ? slice(datum.value,0,4) : ''","labelOffset":20,"domain":false,"labelPadding":48,"title":null}}}}
],"resolve":{"axis":{"x":"independent"}}},
{"width":233,"height":180,"transform":[{"filter":"datum.habitat=='Channel' && datum.site=='Site 3'"}],"layer":[
 {"mark":{"type":"bar","stroke":"black","strokeWidth":1.5},"encoding":{"x":{"field":"period","type":"nominal","scale":{"domain":["2004 M","2004 S","2005 M","2005 S","2006 M","2006 S"],"paddingInner":0.59,"paddingOuter":0.17,"align":0.78},"axis":{"labelExpr":"slice(datum.value,5)","title":null}},"y":{"field":"value","type":"quantitative","scale":{"domain":[0,100]},"axis":{"title":null}},"fill":{"condition":{"test":"datum.fraction=='Fine Sand'","value":{"gradient":"linear","x1":0,"y1":1,"x2":0.33,"y2":-0.18,"stops":[{"offset":0,"color":"white"},{"offset":0.061,"color":"white"},{"offset":0.061,"color":"black"},{"offset":0.111,"color":"black"},{"offset":0.111,"color":"white"},{"offset":0.172,"color":"white"},{"offset":0.172,"color":"black"},{"offset":0.222,"color":"black"},{"offset":0.222,"color":"white"},{"offset":0.283,"color":"white"},{"offset":0.283,"color":"black"},{"offset":0.333,"color":"black"},{"offset":0.333,"color":"white"},{"offset":0.394,"color":"white"},{"offset":0.394,"color":"black"},{"offset":0.444,"color":"black"},{"offset":0.444,"color":"white"},{"offset":0.506,"color":"white"},{"offset":0.506,"color":"black"},{"offset":0.556,"color":"black"},{"offset":0.556,"color":"white"},{"offset":0.617,"color":"white"},{"offset":0.617,"color":"black"},{"offset":0.667,"color":"black"},{"offset":0.667,"color":"white"},{"offset":0.728,"color":"white"},{"offset":0.728,"color":"black"},{"offset":0.778,"color":"black"},{"offset":0.778,"color":"white"},{"offset":0.839,"color":"white"},{"offset":0.839,"color":"black"},{"offset":0.889,"color":"black"},{"offset":0.889,"color":"white"},{"offset":0.95,"color":"white"},{"offset":0.95,"color":"black"},{"offset":1,"color":"black"}]}},"field":"fraction","type":"nominal","sort":["Mud","Fine Sand","Medium Sand","Coarse Sand"],"title":null},"order":{"field":"rank","type":"quantitative"}}},
 {"mark":{"type":"bar","opacity":0},"encoding":{"x":{"field":"period","type":"nominal","axis":{"orient":"bottom","labelExpr":"slice(datum.value,5)=='M' ? slice(datum.value,0,4) : ''","labelOffset":20,"domain":false,"labelPadding":48,"title":null}}}}
],"resolve":{"axis":{"x":"independent"}}}
]
}
],
"config": {
 "view": {"stroke": null},
 "font": "Liberation Serif",
 "range": {"category": ["black", "white", "white", "#a6a6a6"]},
 "axis": {"domainColor": "black", "tickColor": "black", "labelColor": "black", "titleColor": "black"},
 "axisY": {"grid": true, "gridColor": {"condition": {"test": "datum.value == 100", "value": "black"}, "value": "transparent"}, "gridWidth": 2, "tickCount": 5, "labelFont": "DejaVu Sans", "labelFontWeight": "bold", "labelFontSize": 20, "tickSize": 7, "tickWidth": 2, "domainWidth": 2, "labelPadding": 14, "titleFont": "Liberation Serif", "titleFontWeight": "normal", "titleFontSize": 21, "titlePadding": 1},
 "axisX": {"ticks": false, "tickSize": 0, "domainWidth": 2.5, "labelFont": "Liberation Serif", "labelFontSize": 21, "labelAngle": 0, "labelPadding": 24},
 "title": {"font": "Liberation Serif", "fontSize": 22, "fontWeight": "normal", "color": "black", "frame": "group", "baseline": "alphabetic", "offset": 12, "anchor": "middle"},
 "legend": {"orient": "none", "legendX": 408, "legendY": -110, "direction": "horizontal", "labelFont": "Liberation Sans", "labelFontSize": 19, "labelColor": "black", "symbolType": "square", "symbolSize": 150, "symbolStrokeColor": "black", "symbolStrokeWidth": 1, "symbolOpacity": 1, "strokeColor": "#bbbbbb", "fillColor": "white", "padding": 7, "columnPadding": 5, "labelOffset": 3}
}
}
